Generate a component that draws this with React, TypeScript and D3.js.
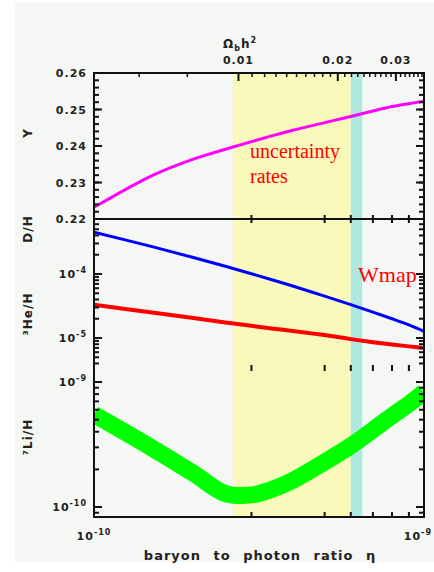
import React from 'react';
import * as d3 from 'd3';

// baryon-to-photon ratio grid, in units of 1e-10
const ETA = [1, 1.5, 2, 2.5, 3, 3.5, 4, 5, 6, 7, 8, 9, 10];
// predicted abundances
const HE4 = [0.2232, 0.2319, 0.2364, 0.2391, 0.2412, 0.2429, 0.2443, 0.2464, 0.2481, 0.2496, 0.2508, 0.2516, 0.2523];
const DH = [4.5e-4, 2.68e-4, 1.81e-4, 1.32e-4, 1.01e-4, 7.98e-5, 6.48e-5, 4.52e-5, 3.33e-5, 2.54e-5, 2.0e-5, 1.6e-5, 1.27e-5];
const HE3 = [3.3e-5, 2.5e-5, 2.05e-5, 1.75e-5, 1.55e-5, 1.4e-5, 1.29e-5, 1.11e-5, 9.6e-6, 8.6e-6, 7.9e-6, 7.4e-6, 7.0e-6];
const LI7 = [5.5e-10, 2.96e-10, 1.86e-10, 1.28e-10, 1.25e-10, 1.4e-10, 1.63e-10, 2.29e-10, 3.08e-10, 4.13e-10, 5.35e-10, 6.67e-10, 8.3e-10];

// shaded ranges of eta (1e-10)
const RANGE_RATES = [2.64, 6.0];
const RANGE_WMAP = [6.0, 6.5];

// eta10 = 274 * Omega_b h^2
const ETA_PER_OMEGA = 274;
const OMEGA_MAJOR = [0.01, 0.02, 0.03];
const OMEGA_MINOR = [0.005, 0.007].concat(d3.range(11, 37).filter(v => v % 10 !== 0).map(v => v / 1000));
const ETA_MINOR = [3, 5, 6, 7, 8, 9];
const Y_MAJOR = [0.22, 0.23, 0.24, 0.25, 0.26];

const W = 434;
const H = 572;
const L = 94;
const R = 424;
const TOP = 73;
const D1 = 219;
const D2 = 368;
const BOT = 517;

const labelFont = {
  fontFamily: 'DejaVu Sans, sans-serif',
  fontWeight: 'bold' as const,
  fontSize: 11,
  fill: '#222',
  letterSpacing: 1,
};

function Pow({ x, y, exp, anchor }: { x: number; y: number; exp: string; anchor: string }) {
  return (
    <text x={x} y={y} textAnchor={anchor} style={labelFont}>
      10
      <tspan dy={-5} fontSize={8}>
        {exp}
      </tspan>
    </text>
  );
}

export default function App() {
  const x = d3.scaleLog().domain([1e-10, 1e-9]).range([L, R]);
  const yTop = d3.scaleLinear().domain([0.22, 0.26]).range([D1, TOP]);
  const yMid = d3.scaleLog().domain([1e-5, 1e-4]).range([338, 274]);
  const yBot = d3.scaleLog().domain([1e-10, 1e-9]).range([507, 382]);

  const xe = (i: number) => x(ETA[i] * 1e-10);
  const mk = (vals: number[], y: (v: number) => number) =>
    d3
      .line<number>()
      .x((_, i) => xe(i))
      .y(v => y(v))
      .curve(d3.curveCatmullRom.alpha(0.5))(vals) || '';

  // log ticks inside a pixel band
  const logTicks = (y: (v: number) => number, lo: number, hi: number, y0: number, y1: number) => {
    const out: { v: number; major: boolean }[] = [];
    for (let e = lo; e <= hi; e++) {
      for (let m = 1; m <= 9; m++) {
        const v = m * Math.pow(10, e);
        const py = y(v);
        if (py > y0 + 2 && py < y1 - 1) out.push({ v, major: m === 1 });
      }
    }
    return out;
  };
  const midTicks = logTicks(yMid, -7, -2, D1, D2);
  const botTicks = logTicks(yBot, -11, -8, D2, BOT + 2);
  const yMinor = d3.range(0.222, 0.2599, 0.002);

  const yTicks: { py: number; major: boolean }[] = [
    ...yMinor.map(v => ({ py: yTop(v), major: false })),
    ...Y_MAJOR.map(v => ({ py: yTop(v), major: true })),
    ...midTicks.map(t => ({ py: yMid(t.v), major: t.major })),
    ...botTicks.map(t => ({ py: yBot(t.v), major: t.major })),
  ];

  const ox = (o: number) => x((o * ETA_PER_OMEGA) * 1e-10);

  return (
    <svg width={W} height={H} style={{ position: 'absolute', left: 0, top: 0, background: '#fff' }}>
      <defs>
        <clipPath id="cTop">
          <rect x={L} y={TOP} width={R - L} height={D1 - TOP} />
        </clipPath>
        <clipPath id="cMid">
          <rect x={L} y={D1} width={R - L} height={D2 - D1} />
        </clipPath>
        <clipPath id="cBot">
          <rect x={L} y={D2} width={R - L} height={BOT - D2} />
        </clipPath>
      </defs>
      <rect x={15} y={3} width={W - 15} height={559} fill="#f5f7f4" />

      {/* shaded ranges */}
      <rect
        x={x(RANGE_RATES[0] * 1e-10)}
        y={TOP}
        width={x(RANGE_RATES[1] * 1e-10) - x(RANGE_RATES[0] * 1e-10)}
        height={BOT - TOP}
        fill="#f9f9bb"
      />
      <rect
        x={x(RANGE_WMAP[0] * 1e-10)}
        y={TOP}
        width={x(RANGE_WMAP[1] * 1e-10) - x(RANGE_WMAP[0] * 1e-10)}
        height={BOT - TOP}
        fill="#aee8e0"
      />

      {/* curves */}
      <path d={mk(HE4, yTop)} fill="none" stroke="#ff00ff" strokeWidth={3} clipPath="url(#cTop)" />
      <path d={mk(DH, yMid)} fill="none" stroke="#0000ff" strokeWidth={3} clipPath="url(#cMid)" />
      <path d={mk(HE3, yMid)} fill="none" stroke="#ff0000" strokeWidth={4} clipPath="url(#cMid)" />
      <path d={mk(LI7, yBot)} fill="none" stroke="#00ff00" strokeWidth={17} clipPath="url(#cBot)" />

      {/* frame */}
      <rect x={L} y={TOP} width={R - L} height={BOT - TOP} fill="none" stroke="#111" strokeWidth={2} />
      <line x1={L} x2={R} y1={D1} y2={D1} stroke="#111" strokeWidth={2} />

      {/* y ticks, both sides */}
      {yTicks.map((t, i) => (
        <g key={'yt' + i} stroke="#111" strokeWidth={2}>
          <line x1={L} x2={L + (t.major ? 8 : 5)} y1={t.py} y2={t.py} />
          <line x1={R} x2={R - (t.major ? 8 : 5)} y1={t.py} y2={t.py} />
        </g>
      ))}

      {/* eta ticks on divider, panel boundary and bottom */}
      {ETA_MINOR.map(v => {
        const px = x(v * 1e-10);
        return (
          <g key={'xt' + v} stroke="#111" strokeWidth={2}>
            <line x1={px} x2={px} y1={D1 - 4} y2={D1 + 4} />
            <line x1={px} x2={px} y1={D2 - 3} y2={D2 + 3} />
            <line x1={px} x2={px} y1={BOT} y2={BOT - 5} />
          </g>
        );
      })}

      {/* Omega_b h^2 ticks on top */}
      {OMEGA_MINOR.map(o => (
        <line key={'om' + o} x1={ox(o)} x2={ox(o)} y1={TOP} y2={TOP + 4} stroke="#111" strokeWidth={1.5} />
      ))}
      {OMEGA_MAJOR.map(o => (
        <g key={'oM' + o}>
          <line x1={ox(o)} x2={ox(o)} y1={TOP} y2={TOP + 8} stroke="#111" strokeWidth={2} />
          <text x={ox(o)} y={64} textAnchor="middle" style={labelFont}>
            {o.toFixed(2)}
          </text>
        </g>
      ))}
      <text x={240} y={48} textAnchor="middle" style={{ ...labelFont, fontSize: 12 }}>
        Ω
        <tspan dy={3} fontSize={8}>
          b
        </tspan>
        <tspan dy={-3}>h</tspan>
        <tspan dy={-5} fontSize={8}>
          2
        </tspan>
      </text>

      {/* left tick labels */}
      {Y_MAJOR.map(v => (
        <text key={'yl' + v} x={87} y={yTop(v) + 4} textAnchor="end" style={labelFont}>
          {v.toFixed(2)}
        </text>
      ))}
      <Pow x={87} y={yMid(1e-4) + 4} exp="-4" anchor="end" />
      <Pow x={87} y={yMid(1e-5) + 4} exp="-5" anchor="end" />
      <Pow x={87} y={yBot(1e-9) + 4} exp="-9" anchor="end" />
      <Pow x={87} y={yBot(1e-10) + 4} exp="-10" anchor="end" />

      {/* bottom labels */}
      <Pow x={x(1e-10)} y={540} exp="-10" anchor="middle" />
      <Pow x={432} y={540} exp="-9" anchor="end" />
      <text x={260} y={560} textAnchor="middle" style={{ ...labelFont, fontSize: 13, wordSpacing: 7 }}>
        baryon to photon ratio η
      </text>

      {/* rotated axis titles */}
      {[
        { t: 'Y', y: 133 },
        { t: 'D/H', y: 229 },
        { t: '³He/H', y: 314 },
        { t: '⁷Li/H', y: 437 },
      ].map(d => (
        <text
          key={d.t}
          transform={`translate(32,${d.y}) rotate(-90)`}
          textAnchor="middle"
          style={{ ...labelFont, fontSize: 12 }}
        >
          {d.t}
        </text>
      ))}

      {/* annotations */}
      <g style={{ fontFamily: 'Liberation Serif, serif', fill: '#ff0000' }}>
        <text x={250} y={158} fontSize={20}>
          uncertainty
        </text>
        <text x={250} y={183} fontSize={20}>
          rates
        </text>
        <text x={358} y={282} fontSize={22}>
          Wmap
        </text>
      </g>
    </svg>
  );
}
